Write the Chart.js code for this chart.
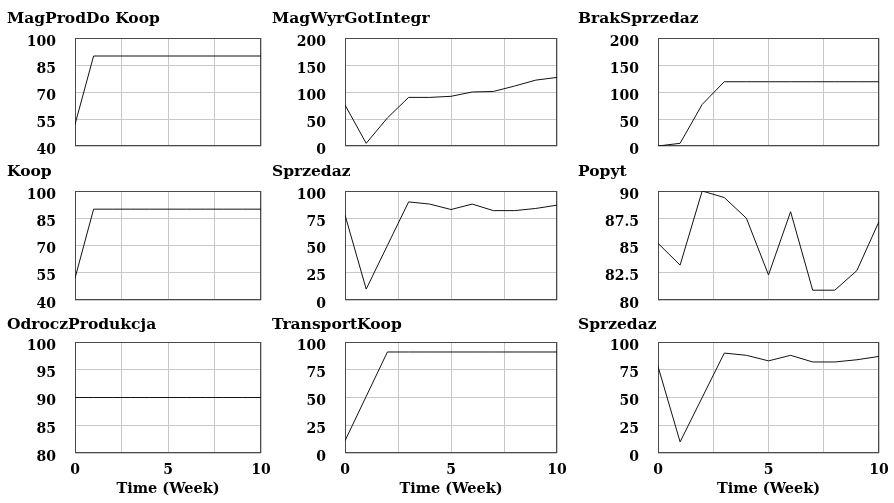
<!DOCTYPE html>
<html><head><meta charset="utf-8">
<script src="https://cdn.jsdelivr.net/npm/chart.js@4"></script>
<style>
html,body{margin:0;padding:0;background:#fff;width:894px;height:503px;overflow:hidden;position:relative}
canvas{position:absolute}
.t{position:absolute;font:bold 15.5px/15px "DejaVu Serif";color:#000;white-space:nowrap}
</style></head><body>
<script>
// ---- data ----
const weeks = [0,1,2,3,4,5,6,7,8,9,10];
const magProdDoKoop   = [52,90,90,90,90,90,90,90,90,90,90];
const magWyrGotIntegr = [76,5,52,90,90,92,100,101,111,122,127];
const brakSprzedaz    = [0,5,77,119,119,119,119,119,119,119,119];
const koop            = [52,90,90,90,90,90,90,90,90,90,90];
const sprzedaz        = [78,10,50,90,88,83,88,82,82,84,87];
const popyt           = [85.2,83.2,90,89.4,87.5,82.3,88.1,80.9,80.9,82.7,87.2];
const odroczProdukcja = [90,90,90,90,90,90,90,90,90,90,90];
const transportKoop   = [11,51,91,91,91,91,91,91,91,91,91];

const titles = ['MagProdDo Koop','MagWyrGotIntegr','BrakSprzedaz','Koop','Sprzedaz','Popyt','OdroczProdukcja','TransportKoop','Sprzedaz'];
const series = [magProdDoKoop,magWyrGotIntegr,brakSprzedaz,koop,sprzedaz,popyt,odroczProdukcja,transportKoop,sprzedaz];
const yMin  = [40,0,0,40,0,80,80,0,0];
const yMax  = [100,200,200,100,100,90,100,100,100];
const yStep = [15,50,50,15,25,2.5,5,25,25];
const xLabel = 'Time (Week)';

// ---- layout ----
const cols = [{l:75,r:261,tx:7},{l:345,r:557,tx:272},{l:658,r:879,tx:578}];
const rows = [{t:38,b:146,ty:10,axis:false},{t:191,b:300,ty:163,axis:false},{t:342,b:453,ty:316,axis:true}];
const YW=70, PT=32, PR=22, PB=32, XH=49;
const font = {family:'"DejaVu Serif"', size:14, weight:'bold'};
const xTitleFont = {family:'"DejaVu Serif"', size:14.5, weight:'bold'};

const boxPlugin = {id:'box', beforeDatasetsDraw(chart){
  const {ctx, chartArea:a} = chart;
  ctx.save(); ctx.strokeStyle='#4a4a4a'; ctx.lineWidth=1;
  ctx.strokeRect(a.left+0.5, a.top+0.5, a.right-a.left-1, a.bottom-a.top-1);
  ctx.restore();
}};

for (let i=0;i<9;i++){
  const c = cols[i%3], r = rows[Math.floor(i/3)];
  const axis = r.axis;
  const cv = document.createElement('canvas');
  const W = YW + (c.r-c.l) + PR, H = PT + (r.b-r.t) + (axis?XH:PB);
  cv.width=W; cv.height=H;
  cv.style.left=(c.l-YW)+'px'; cv.style.top=(r.t-PT)+'px';
  cv.style.width=W+'px'; cv.style.height=H+'px';
  document.body.appendChild(cv);
  const t = document.createElement('div');
  t.className='t'; t.textContent=titles[i];
  t.style.left=c.tx+'px'; t.style.top=r.ty+'px';
  document.body.appendChild(t);
  const vals = series[i];
  new Chart(cv, {
    type:'line',
    data:{datasets:[{data:weeks.map((w,k)=>({x:w,y:vals[k]})), borderColor:'#111', borderWidth:1, pointRadius:0, tension:0, fill:false}]},
    options:{
      responsive:false, animation:false, events:[], devicePixelRatio:1,
      layout:{padding:{left:0,top:PT,right:PR,bottom:axis?0:PB}},
      plugins:{legend:{display:false},tooltip:{enabled:false},title:{display:false}},
      scales:{
        x:{type:'linear',min:0,max:10,
           ticks:{display:axis,stepSize:2.5,autoSkip:false,maxRotation:0,font,color:'#000',padding:9,
                  callback:v=>(v%5===0?String(v):'')},
           grid:{color:'#c8c8c8',lineWidth:1,drawTicks:false},
           border:{display:false},
           title:{display:axis,text:xLabel,font:xTitleFont,color:'#000',padding:{top:0,bottom:4}},
           afterFit:s=>{s.height=axis?XH:0;}},
        y:{min:yMin[i],max:yMax[i],
           ticks:{stepSize:yStep[i],autoSkip:false,font,color:'#000',padding:19,labelOffset:4},
           grid:{color:'#c8c8c8',lineWidth:1,drawTicks:false},
           border:{display:false},
           afterFit:s=>{s.width=YW;}}
      }
    },
    plugins:[boxPlugin]
  });
}
</script>
</body></html>
